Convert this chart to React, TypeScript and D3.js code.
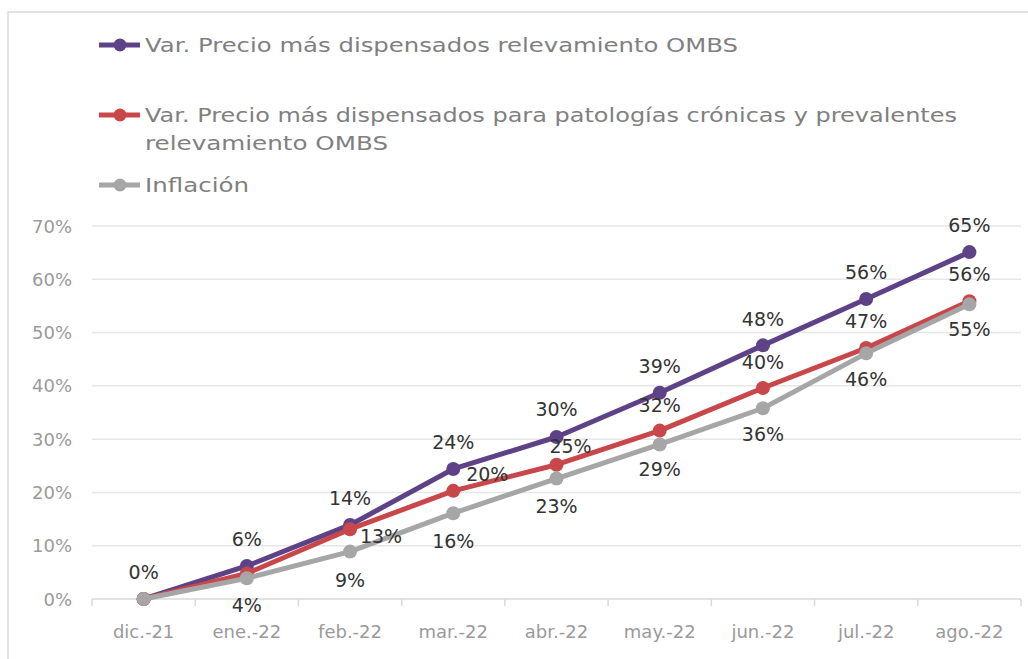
import React from "react";
import * as d3 from "d3";

const categories = ["dic.-21", "ene.-22", "feb.-22", "mar.-22", "abr.-22", "may.-22", "jun.-22", "jul.-22", "ago.-22"];
const ombsValues = [0, 6.2, 13.9, 24.4, 30.4, 38.7, 47.6, 56.3, 65.1];
const cronicasValues = [0, 4.8, 13.1, 20.3, 25.2, 31.6, 39.6, 47.1, 55.9];
const inflacionValues = [0, 3.9, 8.9, 16.1, 22.6, 29.0, 35.8, 46.1, 55.3];
const yTicks = [0, 10, 20, 30, 40, 50, 60, 70];

const legendOmbs = ["Var. Precio más dispensados relevamiento OMBS"];
const legendCronicas = ["Var. Precio más dispensados para patologías crónicas y prevalentes", "relevamiento OMBS"];
const legendInflacion = ["Inflación"];

// label placement (style): [dx, dy] per point, null = hidden
const ombsLabelPos: ([number, number] | null)[] = [[0, -27], [0, -27], [0, -27], [0, -27], [0, -28], [0, -27], [0, -26], [0, -27], [0, -27]];
const cronicasLabelPos: ([number, number] | null)[] = [null, null, [31, 7], [34, -17], [14, -19], [0, -26], [0, -26], [0, -27], [0, -27]];
const inflacionLabelPos: ([number, number] | null)[] = [null, [0, 27], [0, 28], [0, 28], [0, 27], [0, 25], [0, 26], [0, 26], [0, 25]];

// legend text widths (style, to mimic the wide original typeface)
const legendWidths = [[593], [812, 243], [104]];

const W = 1028;
const H = 659;
const FONT = "'DejaVu Sans', sans-serif";

export default function App() {
  const x = d3.scaleBand<string>().domain(categories).range([92, 1021]);
  const y = d3.scaleLinear().domain([0, 70]).range([599, 226]);
  const cx = (c: string) => (x(c) as number) + x.bandwidth() / 2;

  const series = [
    { name: "omb", values: ombsValues, color: "#5D4287", pos: ombsLabelPos },
    { name: "cro", values: cronicasValues, color: "#C8474A", pos: cronicasLabelPos },
    { name: "inf", values: inflacionValues, color: "#A6A6A6", pos: inflacionLabelPos },
  ];

  const line = d3
    .line<number>()
    .x((_, i) => cx(categories[i]))
    .y((d) => y(d));

  const legends = [
    { lines: legendOmbs, color: "#5D4287", y: 45 },
    { lines: legendCronicas, color: "#C8474A", y: 115 },
    { lines: legendInflacion, color: "#A6A6A6", y: 185 },
  ];

  return (
    <svg width={W} height={H} style={{ position: "absolute", left: 0, top: 0, background: "#fff" }} fontFamily={FONT}>
      <rect x={8} y={12} width={1040} height={700} fill="#fff" stroke="#d9d9d9" strokeWidth={1.5} />
      {/* legend */}
      {legends.map((lg, i) => (
        <g key={i}>
          <line x1={99} x2={140} y1={lg.y} y2={lg.y} stroke={lg.color} strokeWidth={5} />
          <circle cx={120} cy={lg.y} r={6.5} fill={lg.color} />
          {lg.lines.map((t, j) => (
            <text
              key={j}
              x={145}
              y={lg.y + 7 + j * 28}
              fontSize={20}
              fill="#7f7f7f"
              textLength={legendWidths[i][j]}
              lengthAdjust="spacingAndGlyphs"
            >
              {t}
            </text>
          ))}
        </g>
      ))}
      {/* grid */}
      {yTicks.map((t) => (
        <g key={t}>
          {t > 0 && <line x1={92} x2={1021} y1={y(t)} y2={y(t)} stroke="#e6e6e6" strokeWidth={1.5} />}
          <text x={72} y={y(t) + 6.5} fontSize={18} fill="#9a9a9a" textAnchor="end">
            {t}%
          </text>
        </g>
      ))}
      {/* x axis */}
      <line x1={92} x2={1021} y1={y(0)} y2={y(0)} stroke="#d9d9d9" strokeWidth={1.5} />
      {categories.map((c, i) => (
        <g key={c}>
          <line x1={x(c) as number} x2={x(c) as number} y1={y(0)} y2={y(0) + 7} stroke="#d9d9d9" strokeWidth={1.5} />
          {i === categories.length - 1 && (
            <line x1={1021} x2={1021} y1={y(0)} y2={y(0) + 7} stroke="#d9d9d9" strokeWidth={1.5} />
          )}
          <text x={cx(c)} y={638} fontSize={18} fill="#9a9a9a" textAnchor="middle">
            {c}
          </text>
        </g>
      ))}
      {/* series */}
      {series.map((s) => (
        <g key={s.name}>
          <path d={line(s.values) as string} fill="none" stroke={s.color} strokeWidth={5} strokeLinejoin="round" />
          {s.values.map((v, i) => (
            <circle key={i} cx={cx(categories[i])} cy={y(v)} r={7} fill={s.color} />
          ))}
        </g>
      ))}
      {/* labels */}
      {series.map((s) =>
        s.values.map((v, i) => {
          const p = s.pos[i];
          if (!p) return null;
          return (
            <text key={s.name + i} x={cx(categories[i]) + p[0]} y={y(v) + p[1] + 7} fontSize={19} fill="#333" textAnchor="middle">
              {Math.round(v)}%
            </text>
          );
        })
      )}
    </svg>
  );
}
